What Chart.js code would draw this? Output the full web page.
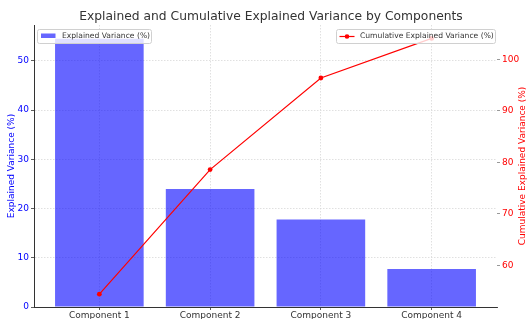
<!DOCTYPE html>
<html>
<head>
<meta charset="utf-8">
<script src="https://cdn.jsdelivr.net/npm/chart.js@4"></script>
<style>
  html, body { margin: 0; padding: 0; background: #fff; }
  #wrap { width: 528px; height: 319px; }
</style>
</head>
<body>
<div id="wrap"><canvas id="chart" width="528" height="319"></canvas></div>
<script>
const categories = ["Component 1", "Component 2", "Component 3", "Component 4"];
const explained = [54.5, 24.0, 17.8, 7.7];
const cumulative = [54.4, 78.6, 96.4, 104.1];
const leftTicks = [0, 10, 20, 30, 40, 50];
const rightTicks = [60, 70, 80, 90, 100];

const FONT = "'DejaVu Sans', sans-serif";
const GRID = "#d8d8d8";
const AXIS = "#333";
const TITLE = "Explained and Cumulative Explained Variance by Components";

// title, legends + right axis title (matplotlib style, drawn by hand)
const extras = {
  id: "extras",
  afterDatasetsDraw(chart) {
    const ctx = chart.ctx;
    const a = chart.chartArea;
    const bar = chart.data.datasets[1];
    const line = chart.data.datasets[0];

    // title
    ctx.save();
    ctx.font = "12.3px " + FONT;
    ctx.fillStyle = "#333";
    ctx.textAlign = "center";
    ctx.textBaseline = "middle";
    ctx.fillText(TITLE, 271, 17);
    ctx.restore();

    function box(x, y, w, h) {
      ctx.save();
      ctx.fillStyle = "rgba(255,255,255,0.8)";
      ctx.strokeStyle = "#d0d0d0";
      ctx.lineWidth = 1;
      ctx.beginPath();
      ctx.roundRect(x + 0.5, y + 0.5, w, h, 2);
      ctx.fill();
      ctx.stroke();
      ctx.restore();
    }

    ctx.save();
    ctx.font = "7.6px " + FONT;
    ctx.textBaseline = "middle";

    // left legend
    let x = a.left + 3, y = a.top + 4;
    box(x, y, 114, 14);
    ctx.fillStyle = bar.backgroundColor;
    ctx.fillRect(x + 4, y + 4.5, 14.5, 4.5);
    ctx.fillStyle = "#333";
    ctx.fillText(bar.label, x + 25, y + 7.5);

    // right legend
    x = a.right - 161; y = a.top + 4;
    box(x, y, 159, 14);
    ctx.strokeStyle = line.borderColor;
    ctx.lineWidth = 1.2;
    ctx.beginPath();
    ctx.moveTo(x + 3.5, y + 7.5);
    ctx.lineTo(x + 18.5, y + 7.5);
    ctx.stroke();
    ctx.fillStyle = line.borderColor;
    ctx.beginPath();
    ctx.arc(x + 11, y + 7.5, 2.3, 0, Math.PI * 2);
    ctx.fill();
    ctx.fillStyle = "#333";
    ctx.fillText(line.label, x + 24, y + 7.5);
    ctx.restore();

    // right axis title, reads bottom to top
    ctx.save();
    ctx.translate(523, (a.top + a.bottom) / 2);
    ctx.rotate(-Math.PI / 2);
    ctx.font = "9px " + FONT;
    ctx.fillStyle = "red";
    ctx.textAlign = "center";
    ctx.textBaseline = "middle";
    ctx.fillText("Cumulative Explained Variance (%)", 0, 0);
    ctx.restore();
  }
};

new Chart(document.getElementById("chart"), {
  type: "bar",
  data: {
    datasets: [
      {
        type: "line",
        label: "Cumulative Explained Variance (%)",
        data: cumulative.map((v, i) => ({ x: i, y: v })),
        yAxisID: "y1",
        borderColor: "red",
        backgroundColor: "red",
        borderWidth: 1.2,
        pointRadius: 2.4,
        pointBackgroundColor: "red",
        pointBorderWidth: 0,
        order: 0
      },
      {
        label: "Explained Variance (%)",
        data: explained.map((v, i) => ({ x: i, y: v })),
        yAxisID: "y",
        backgroundColor: "rgba(0,0,255,0.6)",
        borderWidth: 0,
        categoryPercentage: 1,
        barPercentage: 0.8,
        order: 1
      }
    ]
  },
  options: {
    responsive: false,
    animation: false,
    layout: { padding: { top: 25 } },
    plugins: {
      legend: { display: false },
      tooltip: { enabled: false },
      title: { display: false }
    },
    scales: {
      x: {
        type: "linear",
        offset: false,
        min: -0.59,
        max: 3.59,
        afterBuildTicks: (s) => { s.ticks = categories.map((c, i) => ({ value: i })); },
        afterFit: (s) => { s.height = 12; },
        ticks: {
          color: AXIS,
          font: { family: FONT, size: 9 },
          padding: 0,
          maxRotation: 0,
          callback: (v) => categories[v]
        },
        grid: { offset: false, color: GRID, lineWidth: 0.8, tickColor: AXIS, tickLength: 3 },
        border: { color: AXIS, width: 1, dash: [1.5, 1.5] }
      },
      y: {
        position: "left",
        min: 0,
        max: 57.3,
        afterBuildTicks: (s) => { s.ticks = leftTicks.map(v => ({ value: v })); },
        afterFit: (s) => { s.width = 34; },
        ticks: { color: "blue", font: { family: FONT, size: 9 }, padding: 2 },
        grid: { color: GRID, lineWidth: 0.8, tickColor: AXIS, tickLength: 3 },
        border: { color: AXIS, width: 1, dash: [1.5, 1.5] },
        title: {
          display: true,
          text: "Explained Variance (%)",
          color: "blue",
          font: { family: FONT, size: 9 },
          padding: { top: 6, bottom: 0 }
        }
      },
      y1: {
        position: "right",
        min: 51.9,
        max: 106.7,
        afterBuildTicks: (s) => { s.ticks = rightTicks.map(v => ({ value: v })); },
        afterFit: (s) => { s.width = 31; },
        ticks: { color: "red", font: { family: FONT, size: 9 }, padding: 2 },
        grid: { drawOnChartArea: false, tickColor: "#999", tickLength: 3 },
        border: { display: false }
      }
    }
  },
  plugins: [extras]
});
</script>
</body>
</html>
